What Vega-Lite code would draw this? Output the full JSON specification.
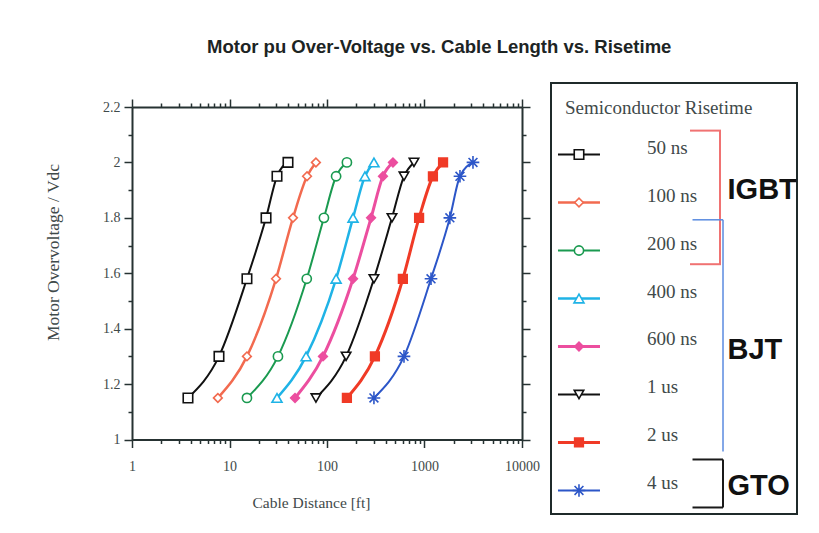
{
  "$schema": "https://vega.github.io/schema/vega-lite/v6.json",
  "padding": {"left": 44, "top": 37, "right": 5, "bottom": 5},
  "background": "white",
  "title": {"text": "Motor pu Over-Voltage vs. Cable Length vs. Risetime", "font": "Liberation Sans", "fontSize": 18.5, "fontWeight": "bold", "color": "#1c2424", "anchor": "middle", "offset": 21.5, "dx": 18},
  "datasets": {
    "curves": [
      {"risetime": "50 ns", "dist": 3.75, "v": 1.15}, {"risetime": "50 ns", "dist": 7.8, "v": 1.3}, {"risetime": "50 ns", "dist": 15.1, "v": 1.58}, {"risetime": "50 ns", "dist": 23.7, "v": 1.8}, {"risetime": "50 ns", "dist": 30.7, "v": 1.95}, {"risetime": "50 ns", "dist": 39.8, "v": 2.0},
      {"risetime": "100 ns", "dist": 7.6, "v": 1.15}, {"risetime": "100 ns", "dist": 15.1, "v": 1.3}, {"risetime": "100 ns", "dist": 30, "v": 1.58}, {"risetime": "100 ns", "dist": 44.8, "v": 1.8}, {"risetime": "100 ns", "dist": 62.4, "v": 1.95}, {"risetime": "100 ns", "dist": 77, "v": 2.0},
      {"risetime": "200 ns", "dist": 15.1, "v": 1.15}, {"risetime": "200 ns", "dist": 31.4, "v": 1.3}, {"risetime": "200 ns", "dist": 62, "v": 1.58}, {"risetime": "200 ns", "dist": 93, "v": 1.8}, {"risetime": "200 ns", "dist": 124, "v": 1.95}, {"risetime": "200 ns", "dist": 160, "v": 2.0},
      {"risetime": "400 ns", "dist": 30.7, "v": 1.15}, {"risetime": "400 ns", "dist": 61, "v": 1.3}, {"risetime": "400 ns", "dist": 124, "v": 1.58}, {"risetime": "400 ns", "dist": 185, "v": 1.8}, {"risetime": "400 ns", "dist": 245, "v": 1.95}, {"risetime": "400 ns", "dist": 303, "v": 2.0},
      {"risetime": "600 ns", "dist": 47, "v": 1.15}, {"risetime": "600 ns", "dist": 91, "v": 1.3}, {"risetime": "600 ns", "dist": 185, "v": 1.58}, {"risetime": "600 ns", "dist": 283, "v": 1.8}, {"risetime": "600 ns", "dist": 375, "v": 1.95}, {"risetime": "600 ns", "dist": 475, "v": 2.0},
      {"risetime": "1 us", "dist": 77, "v": 1.15}, {"risetime": "1 us", "dist": 157, "v": 1.3}, {"risetime": "1 us", "dist": 303, "v": 1.58}, {"risetime": "1 us", "dist": 464, "v": 1.8}, {"risetime": "1 us", "dist": 616, "v": 1.95}, {"risetime": "1 us", "dist": 780, "v": 2.0},
      {"risetime": "2 us", "dist": 160, "v": 1.15}, {"risetime": "2 us", "dist": 310, "v": 1.3}, {"risetime": "2 us", "dist": 600, "v": 1.58}, {"risetime": "2 us", "dist": 880, "v": 1.8}, {"risetime": "2 us", "dist": 1220, "v": 1.95}, {"risetime": "2 us", "dist": 1550, "v": 2.0},
      {"risetime": "4 us", "dist": 303, "v": 1.15}, {"risetime": "4 us", "dist": 616, "v": 1.3}, {"risetime": "4 us", "dist": 1166, "v": 1.58}, {"risetime": "4 us", "dist": 1820, "v": 1.8}, {"risetime": "4 us", "dist": 2311, "v": 1.95}, {"risetime": "4 us", "dist": 3142, "v": 2.0}
    ],
    "series": [
      {"risetime": "50 ns"}, {"risetime": "100 ns"}, {"risetime": "200 ns"}, {"risetime": "400 ns"},
      {"risetime": "600 ns"}, {"risetime": "1 us"}, {"risetime": "2 us"}, {"risetime": "4 us"}
    ]
  },
  "config": {
    "font": "Liberation Serif",
    "view": {"stroke": null},
    "scale": {"pointPadding": 0.49},
    "axis": {
      "domainColor": "#263232", "domainWidth": 2, "tickColor": "#263232", "tickWidth": 1.5,
      "grid": false, "labelFont": "Liberation Serif", "labelFontSize": 14, "labelColor": "#3f4a4a",
      "titleFont": "Liberation Serif", "titleFontSize": 16, "titleFontWeight": "normal", "titleColor": "#3f4a4a",
      "labelOverlap": false, "labelFlush": false, "labelBound": false
    }
  },
  "spacing": 10,
  "hconcat": [
    {
      "spacing": 9,
      "vconcat": [
        {
          "width": 390,
          "height": 1,
          "data": {"values": [{"t": ""}]},
          "mark": {"type": "text"},
          "encoding": {"text": {"field": "t"}}
        },
        {
          "width": 390,
          "height": 332.5,
          "data": {"name": "curves"},
          "layer": [
            {
              "mark": {"type": "line", "interpolate": "monotone"},
              "encoding": {
                "x": {"field": "dist", "type": "quantitative", "scale": {"type": "log", "domain": [1, 10000], "nice": false},
                  "axis": {"orient": "bottom", "values": [1,2,3,4,5,6,7,8,9,10,20,30,40,50,60,70,80,90,100,200,300,400,500,600,700,800,900,1000,2000,3000,4000,5000,6000,7000,8000,9000,10000],
                    "format": "d", "labelExpr": "indexof([1,10,100,1000,10000], datum.value) >= 0 ? datum.label : ''",
                    "tickSize": {"condition": {"test": "indexof([1,10,100,1000,10000], datum.value) >= 0", "value": 8}, "value": 4},
                    "labelPadding": 12, "title": "Cable Distance [ft]", "titleX": 179, "titlePadding": 22, "titleFontSize": 15.5}},
                "y": {"field": "v", "type": "quantitative", "scale": {"domain": [1, 2.2], "nice": false, "zero": false},
                  "axis": {"orient": "left", "values": [1,1.1,1.2,1.3,1.4,1.5,1.6,1.7,1.8,1.9,2,2.1,2.2],
                    "format": "~g", "labelExpr": "round(datum.value*10) % 2 === 0 ? datum.label : ''",
                    "tickSize": {"condition": {"test": "round(datum.value*10) % 2 === 0", "value": 8}, "value": 4},
                    "labelPadding": 4, "title": "Motor Overvoltage / Vdc", "titleY": 145, "titlePadding": 40, "titleFontSize": 17.5}},
                "stroke": {"field": "risetime", "type": "nominal", "legend": null,
                  "scale": {"domain": ["50 ns","100 ns","200 ns","400 ns","600 ns","1 us","2 us","4 us"],
                    "range": ["#111111","#f26a4f","#1a9a50","#1fb3e6","#ec4e9f","#111111","#f03a26","#2c56c8"]}},
                "strokeWidth": {"field": "risetime", "type": "nominal", "legend": null,
                  "scale": {"type": "ordinal", "domain": ["50 ns","100 ns","200 ns","400 ns","600 ns","1 us","2 us","4 us"],
                    "range": [2, 2.5, 2, 2.5, 3, 2, 3, 2]}}
              }
            },
            {
              "mark": {"type": "point", "filled": true, "strokeWidth": 1.6, "opacity": 1},
              "encoding": {
                "x": {"field": "dist", "type": "quantitative", "scale": {"type": "log", "domain": [1, 10000], "nice": false},
                  "axis": {"orient": "top", "values": [1,2,3,4,5,6,7,8,9,10,20,30,40,50,60,70,80,90,100,200,300,400,500,600,700,800,900,1000,2000,3000,4000,5000,6000,7000,8000,9000,10000],
                    "labels": false,
                    "tickSize": {"condition": {"test": "indexof([1,10,100,1000,10000], datum.value) >= 0", "value": 8}, "value": 4},
                    "title": null}},
                "y": {"field": "v", "type": "quantitative", "scale": {"domain": [1, 2.2], "nice": false, "zero": false},
                  "axis": {"orient": "right", "values": [1,1.1,1.2,1.3,1.4,1.5,1.6,1.7,1.8,1.9,2,2.1,2.2],
                    "labels": false,
                    "tickSize": {"condition": {"test": "round(datum.value*10) % 2 === 0", "value": 8}, "value": 4},
                    "title": null}},
                "shape": {"field": "risetime", "type": "nominal", "legend": null,
                  "scale": {"domain": ["50 ns","100 ns","200 ns","400 ns","600 ns","1 us","2 us","4 us"],
                    "range": ["square","diamond","circle","triangle-up","diamond","triangle-down","square","M-1,0L1,0M0,-1L0,1M-0.7,-0.7L0.7,0.7M-0.7,0.7L0.7,-0.7"]}},
                "stroke": {"field": "risetime", "type": "nominal", "legend": null,
                  "scale": {"domain": ["50 ns","100 ns","200 ns","400 ns","600 ns","1 us","2 us","4 us"],
                    "range": ["#111111","#f26a4f","#1a9a50","#1fb3e6","#ec4e9f","#111111","#f03a26","#2c56c8"]}},
                "fill": {"field": "risetime", "type": "nominal", "legend": null,
                  "scale": {"domain": ["50 ns","100 ns","200 ns","400 ns","600 ns","1 us","2 us","4 us"],
                    "range": ["#ffffff","#ffffff","#ffffff","#ffffff","#ec4e9f","#ffffff","#f03a26","#ffffff"]}},
                "size": {"field": "risetime", "type": "nominal", "legend": null,
                  "scale": {"type": "ordinal", "domain": ["50 ns","100 ns","200 ns","400 ns","600 ns","1 us","2 us","4 us"],
                    "range": [90, 75, 85, 100, 75, 90, 75, 160]}}
              }
            }
          ],
          "resolve": {"axis": {"x": "independent", "y": "independent"}}
        }
      ]
    },
    {
      "width": 246,
      "height": 431,
      "view": {"stroke": "#1f2a2a", "strokeWidth": 2},
      "layer": [
        {
          "data": {"values": [{"t": "Semiconductor Risetime"}]},
          "mark": {"type": "text", "align": "left", "baseline": "alphabetic", "dx": -16.3, "dy": 7.5, "fontSize": 19, "color": "#3f4a4a"},
          "encoding": {
            "x": {"datum": "sym", "type": "nominal", "scale": {"type": "point", "domain": ["sym","lab","brk","grp"]}, "axis": null},
            "y": {"datum": "hdr", "type": "nominal", "scale": {"type": "point", "domain": ["hdr","50 ns","100 ns","200 ns","400 ns","600 ns","1 us","2 us","4 us"]}, "axis": null},
            "text": {"field": "t"}
          }
        },
        {
          "data": {"name": "series"},
          "mark": {"type": "point", "shape": "M-1,0L1,0", "size": 1764, "filled": false, "xOffset": -2.3, "opacity": 1},
          "encoding": {
            "x": {"datum": "sym", "type": "nominal", "scale": {"type": "point", "domain": ["sym","lab","brk","grp"]}, "axis": null},
            "y": {"field": "risetime", "type": "nominal", "scale": {"type": "point", "domain": ["hdr","50 ns","100 ns","200 ns","400 ns","600 ns","1 us","2 us","4 us"]}, "axis": null},
            "stroke": {"field": "risetime", "type": "nominal", "legend": null,
              "scale": {"domain": ["50 ns","100 ns","200 ns","400 ns","600 ns","1 us","2 us","4 us"],
                "range": ["#111111","#f26a4f","#1a9a50","#1fb3e6","#ec4e9f","#111111","#f03a26","#2c56c8"]}},
            "strokeWidth": {"field": "risetime", "type": "nominal", "legend": null,
              "scale": {"type": "ordinal", "domain": ["50 ns","100 ns","200 ns","400 ns","600 ns","1 us","2 us","4 us"],
                "range": [2, 2.5, 2, 2.5, 3, 2, 3, 2]}}
          }
        },
        {
          "data": {"name": "series"},
          "mark": {"type": "point", "filled": true, "strokeWidth": 1.6, "opacity": 1, "xOffset": -2.3},
          "encoding": {
            "x": {"datum": "sym", "type": "nominal", "scale": {"type": "point", "domain": ["sym","lab","brk","grp"]}, "axis": null},
            "y": {"field": "risetime", "type": "nominal", "scale": {"type": "point", "domain": ["hdr","50 ns","100 ns","200 ns","400 ns","600 ns","1 us","2 us","4 us"]}, "axis": null},
            "shape": {"field": "risetime", "type": "nominal", "legend": null,
              "scale": {"domain": ["50 ns","100 ns","200 ns","400 ns","600 ns","1 us","2 us","4 us"],
                "range": ["square","diamond","circle","triangle-up","diamond","triangle-down","square","M-1,0L1,0M0,-1L0,1M-0.7,-0.7L0.7,0.7M-0.7,0.7L0.7,-0.7"]}},
            "stroke": {"field": "risetime", "type": "nominal", "legend": null,
              "scale": {"domain": ["50 ns","100 ns","200 ns","400 ns","600 ns","1 us","2 us","4 us"],
                "range": ["#111111","#f26a4f","#1a9a50","#1fb3e6","#ec4e9f","#111111","#f03a26","#2c56c8"]}},
            "fill": {"field": "risetime", "type": "nominal", "legend": null,
              "scale": {"domain": ["50 ns","100 ns","200 ns","400 ns","600 ns","1 us","2 us","4 us"],
                "range": ["#ffffff","#ffffff","#ffffff","#ffffff","#ec4e9f","#ffffff","#f03a26","#ffffff"]}},
            "size": {"field": "risetime", "type": "nominal", "legend": null,
              "scale": {"type": "ordinal", "domain": ["50 ns","100 ns","200 ns","400 ns","600 ns","1 us","2 us","4 us"],
                "range": [90, 75, 85, 100, 75, 90, 75, 160]}}
          }
        },
        {
          "data": {"name": "series"},
          "mark": {"type": "text", "align": "left", "baseline": "alphabetic", "dx": 3.9, "dy": -1, "fontSize": 19, "color": "#3f4a4a"},
          "encoding": {
            "x": {"datum": "lab", "type": "nominal", "scale": {"type": "point", "domain": ["sym","lab","brk","grp"]}, "axis": null},
            "y": {"field": "risetime", "type": "nominal", "scale": {"type": "point", "domain": ["hdr","50 ns","100 ns","200 ns","400 ns","600 ns","1 us","2 us","4 us"]}, "axis": null},
            "text": {"field": "risetime"}
          }
        },
        {
          "data": {"values": [{"device": "IGBT"}]},
          "mark": {"type": "rule", "color": "#f07272", "strokeWidth": 2, "xOffset": 15.1, "yOffset": -23.9, "y2Offset": 13.7},
          "encoding": {
            "x": {"datum": "brk", "type": "nominal", "scale": {"type": "point", "domain": ["sym","lab","brk","grp"]}, "axis": null},
            "y": {"datum": "50 ns", "type": "nominal", "scale": {"type": "point", "domain": ["hdr","50 ns","100 ns","200 ns","400 ns","600 ns","1 us","2 us","4 us"]}, "axis": null},
            "y2": {"datum": "200 ns"}
          }
        },
        {
          "data": {"values": [{"device": "IGBT"}]},
          "mark": {"type": "rule", "color": "#f07272", "strokeWidth": 2, "xOffset": -14.9, "x2Offset": 16.1, "yOffset": -23.9},
          "encoding": {
            "x": {"datum": "brk", "type": "nominal", "scale": {"type": "point", "domain": ["sym","lab","brk","grp"]}, "axis": null},
            "x2": {"datum": "brk"},
            "y": {"datum": "50 ns", "type": "nominal", "scale": {"type": "point", "domain": ["hdr","50 ns","100 ns","200 ns","400 ns","600 ns","1 us","2 us","4 us"]}, "axis": null}
          }
        },
        {
          "data": {"values": [{"device": "IGBT"}]},
          "mark": {"type": "rule", "color": "#f07272", "strokeWidth": 2, "xOffset": -14.9, "x2Offset": 16.1, "yOffset": 13.7},
          "encoding": {
            "x": {"datum": "brk", "type": "nominal", "scale": {"type": "point", "domain": ["sym","lab","brk","grp"]}, "axis": null},
            "x2": {"datum": "brk"},
            "y": {"datum": "200 ns", "type": "nominal", "scale": {"type": "point", "domain": ["hdr","50 ns","100 ns","200 ns","400 ns","600 ns","1 us","2 us","4 us"]}, "axis": null}
          }
        },
        {
          "data": {"values": [{"device": "BJT"}]},
          "mark": {"type": "rule", "color": "#5a8be0", "strokeWidth": 1.5, "xOffset": 18.1, "yOffset": -30.7, "y2Offset": 9},
          "encoding": {
            "x": {"datum": "brk", "type": "nominal", "scale": {"type": "point", "domain": ["sym","lab","brk","grp"]}, "axis": null},
            "y": {"datum": "200 ns", "type": "nominal", "scale": {"type": "point", "domain": ["hdr","50 ns","100 ns","200 ns","400 ns","600 ns","1 us","2 us","4 us"]}, "axis": null},
            "y2": {"datum": "2 us"}
          }
        },
        {
          "data": {"values": [{"device": "BJT"}]},
          "mark": {"type": "rule", "color": "#5a8be0", "strokeWidth": 1.5, "xOffset": -12.4, "x2Offset": 18.1, "yOffset": -30.7},
          "encoding": {
            "x": {"datum": "brk", "type": "nominal", "scale": {"type": "point", "domain": ["sym","lab","brk","grp"]}, "axis": null},
            "x2": {"datum": "brk"},
            "y": {"datum": "200 ns", "type": "nominal", "scale": {"type": "point", "domain": ["hdr","50 ns","100 ns","200 ns","400 ns","600 ns","1 us","2 us","4 us"]}, "axis": null}
          }
        },
        {
          "data": {"values": [{"device": "GTO"}]},
          "mark": {"type": "rule", "color": "#1a1a1a", "strokeWidth": 2, "xOffset": 18.1, "yOffset": -31, "y2Offset": 17},
          "encoding": {
            "x": {"datum": "brk", "type": "nominal", "scale": {"type": "point", "domain": ["sym","lab","brk","grp"]}, "axis": null},
            "y": {"datum": "4 us", "type": "nominal", "scale": {"type": "point", "domain": ["hdr","50 ns","100 ns","200 ns","400 ns","600 ns","1 us","2 us","4 us"]}, "axis": null},
            "y2": {"datum": "4 us"}
          }
        },
        {
          "data": {"values": [{"device": "GTO"}]},
          "mark": {"type": "rule", "color": "#1a1a1a", "strokeWidth": 2, "xOffset": -12.4, "x2Offset": 18.1, "yOffset": -31},
          "encoding": {
            "x": {"datum": "brk", "type": "nominal", "scale": {"type": "point", "domain": ["sym","lab","brk","grp"]}, "axis": null},
            "x2": {"datum": "brk"},
            "y": {"datum": "4 us", "type": "nominal", "scale": {"type": "point", "domain": ["hdr","50 ns","100 ns","200 ns","400 ns","600 ns","1 us","2 us","4 us"]}, "axis": null}
          }
        },
        {
          "data": {"values": [{"device": "GTO"}]},
          "mark": {"type": "rule", "color": "#1a1a1a", "strokeWidth": 2, "xOffset": -12.4, "x2Offset": 18.1, "yOffset": 17},
          "encoding": {
            "x": {"datum": "brk", "type": "nominal", "scale": {"type": "point", "domain": ["sym","lab","brk","grp"]}, "axis": null},
            "x2": {"datum": "brk"},
            "y": {"datum": "4 us", "type": "nominal", "scale": {"type": "point", "domain": ["hdr","50 ns","100 ns","200 ns","400 ns","600 ns","1 us","2 us","4 us"]}, "axis": null}
          }
        },
        {
          "data": {"values": [{"device": "IGBT"}]},
          "mark": {"type": "text", "align": "left", "baseline": "alphabetic", "font": "Liberation Sans", "fontWeight": "bold", "fontSize": 29, "color": "#111111", "dx": -39.2, "dy": -4},
          "encoding": {
            "x": {"datum": "grp", "type": "nominal", "scale": {"type": "point", "domain": ["sym","lab","brk","grp"]}, "axis": null},
            "y": {"datum": "100 ns", "type": "nominal", "scale": {"type": "point", "domain": ["hdr","50 ns","100 ns","200 ns","400 ns","600 ns","1 us","2 us","4 us"]}, "axis": null},
            "text": {"field": "device"}
          }
        },
        {
          "data": {"values": [{"device": "BJT"}]},
          "mark": {"type": "text", "align": "left", "baseline": "alphabetic", "font": "Liberation Sans", "fontWeight": "bold", "fontSize": 29, "color": "#111111", "dx": -39.2, "dy": 13},
          "encoding": {
            "x": {"datum": "grp", "type": "nominal", "scale": {"type": "point", "domain": ["sym","lab","brk","grp"]}, "axis": null},
            "y": {"datum": "600 ns", "type": "nominal", "scale": {"type": "point", "domain": ["hdr","50 ns","100 ns","200 ns","400 ns","600 ns","1 us","2 us","4 us"]}, "axis": null},
            "text": {"field": "device"}
          }
        },
        {
          "data": {"values": [{"device": "GTO"}]},
          "mark": {"type": "text", "align": "left", "baseline": "alphabetic", "font": "Liberation Sans", "fontWeight": "bold", "fontSize": 29, "color": "#111111", "dx": -39.2, "dy": 5},
          "encoding": {
            "x": {"datum": "grp", "type": "nominal", "scale": {"type": "point", "domain": ["sym","lab","brk","grp"]}, "axis": null},
            "y": {"datum": "4 us", "type": "nominal", "scale": {"type": "point", "domain": ["hdr","50 ns","100 ns","200 ns","400 ns","600 ns","1 us","2 us","4 us"]}, "axis": null},
            "text": {"field": "device"}
          }
        }
      ]
    }
  ]
}
